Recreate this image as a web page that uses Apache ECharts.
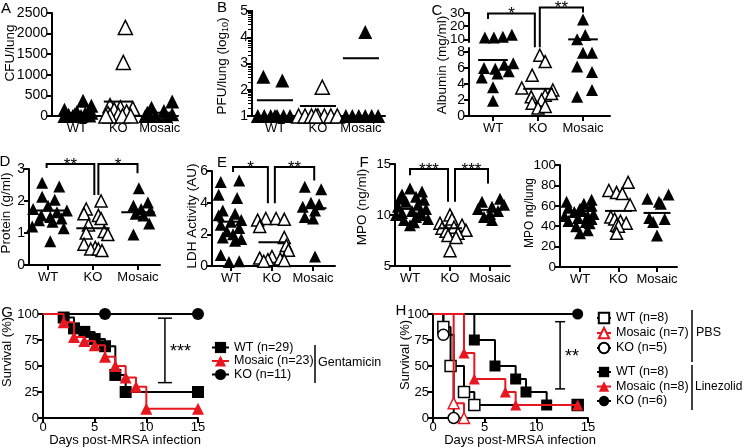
<!DOCTYPE html>
<html><head><meta charset="utf-8">
<script src="https://cdn.jsdelivr.net/npm/echarts@6.0.0/dist/echarts.min.js"></script>
<style>html,body{margin:0;padding:0;background:#fff;}#chart{width:744px;height:447px;}</style>
</head><body><div id="chart"></div>
<script>
// ---------------- DATA ----------------
const groups = ['WT', 'KO', 'Mosaic'];

// A: CFU/lung
const cfuWT = [0, 0, 0, 10, 30, 60, 100, 150, 80, 40, 370, 250];
const cfuWTJit = [-0.3, -0.1, 0.1, 0.3, -0.2, 0.2, 0.0, -0.3, 0.35, -0.05, 0.15, 0.35];
const cfuKO = [2150, 1300, 250, 200, 180, 150, 100, 60, 30, 0, 0, 0, 0];
const cfuKOJit = [0.17, 0.12, -0.2, 0.05, 0.35, -0.1, 0.2, -0.25, 0.0, -0.2, 0.1, 0.3, -0.3];
const cfuMo = [350, 200, 120, 80, 40, 0, 0, 0];
const cfuMoJit = [0.3, -0.2, 0.1, -0.3, 0.3, -0.1, 0.15, -0.35];
const cfuMean = [70, 350, 80];

// B: PFU/lung (log10)
const pfuWT = [2.5, 2.35, 1, 1, 1, 1, 1, 1, 1];
const pfuWTJit = [-0.27, 0.17, -0.4, -0.25, -0.1, 0.05, 0.2, 0.35, 0];
const pfuKO = [2.1, 1, 1, 1, 1, 1, 1, 1, 1];
const pfuKOJit = [0.1, -0.45, -0.3, -0.15, 0, 0.15, 0.3, 0.45, -0.05];
const pfuMo = [4.2, 1, 1, 1, 1, 1, 1];
const pfuMoJit = [0.1, -0.35, -0.2, -0.05, 0.1, 0.25, 0.4];
const pfuMean = [1.6, 1.38, 3.2];
const pfuMinorTicks = [1.301, 1.477, 1.602, 1.699, 1.778, 1.845, 1.903, 1.954,
  2.301, 2.477, 2.602, 2.699, 2.778, 2.845, 2.903, 2.954,
  3.301, 3.477, 3.602, 3.699, 3.778, 3.845, 3.903, 3.954,
  4.301, 4.477, 4.602, 4.699, 4.778, 4.845, 4.903, 4.954];

// C: Albumin (mg/ml), broken axis at 8.5
const albWT = [11.5, 11.5, 12, 13.5, 6.0, 5.9, 6.4, 6.6, 4.8, 5.3, 5.6, 3.6, 1.9];
const albWTJit = [-0.18, 0.02, 0.22, 0.42, -0.2, 0.05, 0.25, 0.45, -0.25, 0.1, 0.35, 0.0, 0.0];
const albKO = [7.6, 6.8, 5.1, 3.5, 3.25, 2.6, 2.4, 2.0, 1.6, 1.0, 1.2, 2.8];
const albKOJit = [0.04, 0.16, -0.13, -0.36, 0.33, 0.16, -0.15, 0.08, -0.13, 0.0, 0.16, 0.3];
const albMo = [25, 13.3, 10, 7.9, 7.9, 6.2, 5.5, 3.25, 2.4];
const albMoJit = [0, 0.05, -0.13, 0, 0.2, -0.13, 0.2, 0.2, -0.13];
const albMean = [7.0, 3.4, 10];
const albBreak = 8.5;
const albTopTicks = [10, 20, 30];
const albBottomTicks = [0, 2, 4, 6, 8];

// D: Protein (g/ml)
const protWT = [2.57, 2.45, 2.13, 2.04, 1.85, 1.75, 1.7, 1.65, 1.55, 1.5, 1.45, 1.4, 1.35, 1.2, 1.15, 0.74];
const protWTJit = [-0.13, 0.25, -0.13, 0.15, 0, -0.33, 0.42, 0.2, -0.15, 0.05, 0.3, -0.2, 0.1, -0.35, 0.35, 0.05];
const protKO = [2.0, 1.75, 1.6, 1.55, 1.45, 1.25, 1.05, 1.0, 0.95, 0.65, 0.55, 0.5, 0.5, 0.45];
const protKOJit = [0.18, -0.15, -0.2, 0.12, 0.18, -0.1, 0.25, -0.15, 0.33, -0.2, 0.05, -0.05, 0.12, 0.2];
const protMo = [2.4, 1.95, 1.85, 1.75, 1.7, 1.6, 1.55, 1.3, 0.95];
const protMoJit = [0.02, 0.22, -0.1, 0.07, 0.28, -0.05, 0.12, 0.25, -0.1];
const protMean = [1.7, 1.15, 1.65];

// E: LDH Activity (AU)
const ldhWT = [5.4, 5.3, 4.5, 4.3, 3.5, 3.3, 3.2, 2.9, 2.8, 2.6, 2.4, 2.2, 2.0, 1.8, 1.7, 1.6, 0.7, 0.3, 0.25];
const ldhWTJit = [0.2, -0.25, -0.3, 0.15, -0.2, 0.1, -0.3, 0.25, 0.0, -0.25, 0.2, -0.1, 0.05, -0.2, 0.25, 0.1, -0.25, 0.2, -0.05];
const ldhKO = [3.0, 3.0, 2.95, 2.9, 2.5, 1.8, 1.3, 1.0, 0.6, 0.5, 0.45, 0.4, 0.35, 0.3];
const ldhKOJit = [-0.15, 0.1, 0.3, -0.35, -0.3, 0.3, 0.35, 0.4, 0.0, -0.3, 0.2, -0.1, 0.3, -0.2];
const ldhMo = [5.0, 4.85, 4.0, 3.9, 3.75, 3.5, 3.1, 3.0, 0.6];
const ldhMoJit = [-0.2, 0.2, -0.05, 0.15, -0.25, 0.05, -0.2, 0.0, 0.05];
const ldhMean = [2.8, 1.5, 3.65];

// F left: MPO (ng/ml)
const mpoWT = [12.6, 12.3, 12.0, 11.8, 11.5, 11.3, 11.0, 10.8, 10.6, 10.4, 10.2, 10.0, 10.0, 9.8, 9.6, 9.5, 9.3, 9.0, 11.6, 10.2];
const mpoWTJit = [0.0, 0.3, -0.2, 0.15, 0.35, -0.1, 0.2, -0.3, 0.4, 0.05, -0.2, 0.3, -0.35, 0.15, 0.45, -0.15, 0.1, 0.0, -0.25, 0.25];
const mpoKO = [10.0, 9.6, 9.2, 9.0, 8.8, 8.7, 8.5, 8.4, 8.2, 8.0, 7.8, 6.5];
const mpoKOJit = [0.0, 0.05, -0.25, 0.3, 0.1, -0.2, 0.4, -0.1, 0.2, -0.05, 0.15, 0.0];
const mpoMo = [11.6, 11.3, 11.0, 10.8, 10.6, 10.4, 10.1, 9.8, 9.5];
const mpoMoJit = [0.25, -0.2, 0.35, 0.05, -0.3, 0.2, 0.0, -0.15, 0.05];
const mpoMean = [10.6, 8.7, 10.5];

// F right: MPO ng/lung
const mpolWT = [66, 64, 62, 60, 58, 57, 55, 54, 52, 50, 50, 48, 47, 45, 44, 43, 40, 36, 33];
const mpolWTJit = [0.3, -0.35, 0.1, 0.3, -0.3, 0.0, 0.05, -0.15, 0.35, -0.4, 0.2, -0.05, 0.3, -0.3, 0.15, 0.25, -0.1, 0.2, 0.0];
const mpolKO = [83, 75, 73, 72, 61, 49, 47, 45, 43, 41, 40, 33];
const mpolKOJit = [0.25, -0.25, -0.05, 0.1, 0.3, -0.2, -0.1, 0.05, 0.2, -0.05, 0.0, -0.05];
const mpolMo = [71, 67, 64, 62, 48, 47, 44, 31];
const mpolMoJit = [0.3, -0.25, 0.05, 0.1, -0.2, 0.2, -0.1, 0.0];
const mpolMean = [55, 55, 53];

// G: survival, Gentamicin  [day, % surviving]
const gentWT = [[0, 100], [2, 96.6], [3, 86.2], [4, 82.8], [5, 75.9], [6, 69], [7, 41.4], [8, 25], [15, 25]];
const gentMosaic = [[0, 100], [2, 92], [3, 78], [4, 74], [5, 70], [6, 59], [7, 50], [8, 39], [9, 30], [10, 9], [15, 9]];
const gentKO = [[0, 100], [6, 100], [15, 100]];

// H: survival, PBS vs Linezolid
const pbsWT = [[0, 100], [1, 87.5], [1.7, 50], [3, 25], [4, 12.5], [14, 12.5]];
const pbsMosaic = [[0, 100], [2, 14.3], [3, 0]];
const pbsKO = [[0, 100], [1, 80], [2, 0]];
const linWT = [[0, 100], [4, 75], [6, 50], [8, 37.5], [9, 25], [11, 12.5], [14, 12.5]];
const linMosaic = [[0, 100], [3, 62.5], [4, 37.5], [7, 25], [8, 12.5], [14, 12.5]];
const linKO = [[0, 100], [14, 100]];

// ---------------- LAYOUT / STYLE ----------------
const FONT = 'Liberation Sans';
const BLACK = '#000';
const RED = '#e8171f';
const plain = v => String(v);

const grids = [
  {left: 52, top: 13, width: 126, height: 103},   // 0 A
  {left: 252, top: 11, width: 133, height: 105},  // 1 B
  {left: 469, top: 13, width: 141, height: 29},   // 2 C top
  {left: 469, top: 48, width: 141, height: 68},   // 3 C bottom
  {left: 29, top: 169, width: 131, height: 96},   // 4 D
  {left: 212, top: 171, width: 123, height: 95},  // 5 E
  {left: 395, top: 164, width: 115, height: 102}, // 6 F
  {left: 560, top: 165, width: 117, height: 102}, // 7 F right
  {left: 43, top: 314, width: 155, height: 104},  // 8 G
  {left: 433, top: 314, width: 155, height: 104}  // 9 H
].map(g => Object.assign({containLabel: false, outerBoundsMode: 'none'}, g));

function catX(gi, min, max, show) {
  return {type: 'value', gridIndex: gi, min, max, show,
    axisLine: {show: true, onZero: false, lineStyle: {color: BLACK, width: 2}},
    axisTick: {show: true, customValues: [1, 2, 3], length: 5, lineStyle: {color: BLACK, width: 2}},
    axisLabel: {show: true, customValues: [1, 2, 3], formatter: v => groups[Math.round(v) - 1],
      fontSize: 13, fontFamily: FONT, color: BLACK, margin: 6, hideOverlap: false},
    splitLine: {show: false}};
}
function valY(gi, min, max, interval, fs, custom, noLabels) {
  const ax = {type: 'value', gridIndex: gi, min, max, position: 'left',
    axisLine: {show: true, onZero: false, lineStyle: {color: BLACK, width: 2}},
    axisTick: {show: true, length: 5, lineStyle: {color: BLACK, width: 2}},
    axisLabel: {show: !noLabels, fontSize: fs, fontFamily: FONT, color: BLACK, margin: 4, formatter: plain,
      showMinLabel: true, showMaxLabel: true, hideOverlap: false},
    splitLine: {show: false}};
  if (interval) ax.interval = interval;
  if (custom) { ax.axisTick.customValues = custom; ax.axisLabel.customValues = custom; }
  return ax;
}
function survX(gi) {
  return {type: 'value', gridIndex: gi, min: 0, max: 15, interval: 5,
    axisLine: {show: true, onZero: false, lineStyle: {color: BLACK, width: 2}},
    axisTick: {show: true, length: 5, lineStyle: {color: BLACK, width: 2}},
    axisLabel: {fontSize: 13, fontFamily: FONT, color: BLACK, margin: 3, formatter: plain},
    splitLine: {show: false}};
}

const xAxis = [
  catX(0, 0.4, 3.44, true),
  catX(1, 0.465, 3.56, true),
  catX(2, 0.467, 3.6, false),
  catX(3, 0.467, 3.6, true),
  catX(4, 0.578, 3.49, true),
  catX(5, 0.537, 3.537, true),
  catX(6, 0.625, 3.5, true),
  catX(7, 0.48, 3.52, true),
  survX(8),
  survX(9)
];
const minorB = valY(1, 1, 5, null, 14, pfuMinorTicks, true);
minorB.axisTick.length = 4;
minorB.axisTick.lineStyle = {color: BLACK, width: 1};
minorB.axisLine.lineStyle = {color: BLACK, width: 2};
const yAxis = [
  valY(0, 0, 2500, 500, 14),
  valY(1, 1, 5, 1, 14),
  valY(2, 8, 30, null, 13.5, albTopTicks, true),   // labels drawn below (tight spacing)
  valY(3, 0, 8.5, null, 14, albBottomTicks),
  valY(4, 0, 3, 1, 14),
  valY(5, 0, 6, 2, 14),
  valY(6, 5, 15, 5, 13),
  valY(7, 0, 100, 20, 13.5),
  valY(8, 0, 100, 25, 13),
  valY(9, 0, 100, 25, 13),
  minorB   // minor (log) ticks for B
];

// ---------------- SERIES ----------------
const series = [];
function dots(gi, vals, jit, cat, open, size, filterFn) {
  const data = [];
  vals.forEach((v, i) => { if (!filterFn || filterFn(v)) data.push([cat + jit[i], v]); });
  series.push({type: 'scatter', xAxisIndex: gi, yAxisIndex: gi, symbol: 'triangle',
    symbolSize: size, clip: false, silent: true, data, z: 3,
    itemStyle: open ? {color: '#fff', borderColor: BLACK, borderWidth: 1.5, opacity: 1} : {color: BLACK, opacity: 1}});
}
function means(gi, vals, hw, filterFn) {
  const data = [];
  vals.forEach((m, i) => { if (!filterFn || filterFn(m)) data.push([i + 1, m]); });
  series.push({type: 'custom', xAxisIndex: gi, yAxisIndex: gi, coordinateSystem: 'cartesian2d', clip: false,
    silent: true, z: 5, data,
    renderItem: (params, api) => {
      const c = api.value(0), m = api.value(1);
      const p1 = api.coord([c - hw, m]), p2 = api.coord([c + hw, m]);
      return {type: 'line', shape: {x1: p1[0], y1: p1[1], x2: p2[0], y2: p2[1]},
        style: {stroke: BLACK, lineWidth: 2}};
    }});
}
function panel(gi, sets, meanVals, size, hw) {
  dots(gi, sets[0], sets[1], 1, false, size);
  dots(gi, sets[2], sets[3], 2, true, size);
  dots(gi, sets[4], sets[5], 3, false, size);
  means(gi, meanVals, hw);
}
panel(0, [cfuWT, cfuWTJit, cfuKO, cfuKOJit, cfuMo, cfuMoJit], cfuMean, 14, 0.35);
panel(1, [pfuWT, pfuWTJit, pfuKO, pfuKOJit, pfuMo, pfuMoJit], pfuMean, 14, 0.42);
// C (broken)
const hi = v => v > albBreak, lo = v => v <= albBreak;
dots(2, albWT, albWTJit, 1, false, 12, hi); dots(3, albWT, albWTJit, 1, false, 12, lo);
dots(2, albKO, albKOJit, 2, true, 12, hi); dots(3, albKO, albKOJit, 2, true, 12, lo);
dots(2, albMo, albMoJit, 3, false, 12, hi); dots(3, albMo, albMoJit, 3, false, 12, lo);
means(2, albMean, 0.33, v => v >= albBreak); means(3, albMean, 0.33, v => v < albBreak);
panel(4, [protWT, protWTJit, protKO, protKOJit, protMo, protMoJit], protMean, 12, 0.37);
panel(5, [ldhWT, ldhWTJit, ldhKO, ldhKOJit, ldhMo, ldhMoJit], ldhMean, 12, 0.33);
panel(6, [mpoWT, mpoWTJit, mpoKO, mpoKOJit, mpoMo, mpoMoJit], mpoMean, 12, 0.3);
panel(7, [mpolWT, mpolWTJit, mpolKO, mpolKOJit, mpolMo, mpolMoJit], mpolMean, 12, 0.35);

function km(name, gi, pts, symbol, color, open, size, z) {
  series.push({type: 'line', name, xAxisIndex: gi, yAxisIndex: gi, step: 'end', clip: false, silent: true,
    data: pts.map((p, i) => i === 0 ? {value: p, symbol: 'none'} : p),
    symbol, symbolSize: size, showSymbol: true, showAllSymbol: true, z,
    lineStyle: {color, width: 2},
    itemStyle: open ? {color: '#fff', borderColor: color, borderWidth: 1.5} : {color}});
}
km('WT (n=29)', 8, gentWT, 'rect', BLACK, false, 12, 3);
km('Mosaic (n=23)', 8, gentMosaic, 'triangle', RED, false, 12, 4);
km('KO (n=11)', 8, gentKO, 'circle', BLACK, false, 12, 3);

km('WT (n=8)', 9, pbsWT, 'rect', BLACK, true, 11, 3);
km('Mosaic (n=7)', 9, pbsMosaic, 'triangle', RED, true, 11, 4);
km('KO (n=5)', 9, pbsKO, 'circle', BLACK, true, 11, 3);
km('WT (n=8) ', 9, linWT, 'rect', BLACK, false, 11, 3);
km('Mosaic (n=8)', 9, linMosaic, 'triangle', RED, false, 11, 4);
km('KO (n=6)', 9, linKO, 'circle', BLACK, false, 11, 3);

const legendText = {fontSize: 12.5, fontFamily: FONT, color: BLACK};
const legend = [
  {data: ['WT (n=29)', 'Mosaic (n=23)', 'KO (n=11)'], orient: 'vertical', left: 211, top: 341, padding: 0,
   itemWidth: 17, itemHeight: 14, itemGap: 0.5, selectedMode: false, textStyle: legendText},
  {data: ['WT (n=8)', 'Mosaic (n=7)', 'KO (n=5)'], orient: 'vertical', left: 596, top: 311.5, padding: 0,
   itemWidth: 14, itemHeight: 13, itemGap: 2, selectedMode: false, textStyle: legendText},
  {data: ['WT (n=8) ', 'Mosaic (n=8)', 'KO (n=6)'], orient: 'vertical', left: 596, top: 365.5, padding: 0,
   itemWidth: 14, itemHeight: 13, itemGap: 1.5, selectedMode: false, textStyle: legendText}
];

const chart = echarts.init(document.getElementById('chart'), null, {renderer: 'canvas', width: 744, height: 447});
chart.setOption({animation: false, backgroundColor: '#fff', textStyle: {fontFamily: FONT},
  grid: grids, xAxis, yAxis, series, legend});

// ---------------- ANNOTATIONS ----------------
const brackets = [
  {t: '*',   x1: 0.89, x2: 1.93, top: [2, 29.6], l: [2, 25.4], r: [3, 8.6]},
  {t: '**',  x1: 2.04, x2: 3.0,  top: [2, 34.2], l: [3, 8.6],  r: [2, 30.4]},
  {t: '**',  x1: 0.97, x2: 2.03, top: [4, 3.16], l: [4, 3.03], r: [4, 2.19]},
  {t: '*',   x1: 2.12, x2: 2.99, top: [4, 3.16], l: [4, 2.19], r: [4, 2.87]},
  {t: '*',   x1: 1.05, x2: 1.9,  top: [5, 6.25], l: [5, 5.94], r: [5, 3.97]},
  {t: '**',  x1: 2.07, x2: 3.03, top: [5, 6.25], l: [5, 3.97], r: [5, 5.4]},
  {t: '***', x1: 1.0,  x2: 1.95, top: [6, 14.5], l: [6, 13.9], r: [6, 11.3]},
  {t: '***', x1: 2.125, x2: 2.95, top: [6, 14.5], l: [6, 11.3], r: [6, 13.1]}
];
const survSig = [
  {g: 8, x: 11.8, y1: 96, y2: 34, t: '***', cap: 7},
  {g: 9, x: 12.3, y1: 92.6, y2: 28, t: '**', cap: 5}
];

const px = (g, x, y) => chart.convertToPixel({gridIndex: g}, [x, y]);
const gfx = [];
function text(x, y, s, fs, opt) {
  gfx.push(Object.assign({type: 'text', x, y, silent: true,
    style: Object.assign({text: s, fontSize: fs, fontFamily: FONT, fill: BLACK, align: 'center', verticalAlign: 'middle'}, (opt && opt.style) || {})},
    (opt && opt.el) || {}));
}
// C top-segment tick labels (spacing too tight for automatic labels)
const cMinX = xAxis[2].min;
albTopTicks.forEach(v => {
  const p = px(2, cMinX, v);
  text(p[0] - 4, p[1], String(v), 13.5, {style: {align: 'right'}});
});
brackets.forEach(b => {
  const a = px(b.l[0], b.x1, b.l[1]), c = px(b.top[0], b.x1, b.top[1]);
  const d = px(b.top[0], b.x2, b.top[1]), e = px(b.r[0], b.x2, b.r[1]);
  gfx.push({type: 'polyline', silent: true, shape: {points: [a, c, d, e]},
    style: {stroke: BLACK, lineWidth: 2, fill: null}});
  text((c[0] + d[0]) / 2, c[1] + 1, b.t, 17);
});
survSig.forEach(s => {
  const p1 = px(s.g, s.x, s.y1), p2 = px(s.g, s.x, s.y2);
  gfx.push({type: 'line', silent: true, shape: {x1: p1[0], y1: p1[1], x2: p2[0], y2: p2[1]}, style: {stroke: BLACK, lineWidth: 1.5}});
  gfx.push({type: 'line', silent: true, shape: {x1: p1[0] - s.cap, y1: p1[1], x2: p1[0] + s.cap, y2: p1[1]}, style: {stroke: BLACK, lineWidth: 1.5}});
  gfx.push({type: 'line', silent: true, shape: {x1: p2[0] - s.cap, y1: p2[1], x2: p2[0] + s.cap, y2: p2[1]}, style: {stroke: BLACK, lineWidth: 1.5}});
  text(p1[0] + 5, (p1[1] + p2[1]) / 2 + 2, s.t, 18, {style: {align: 'left'}});
});

// panel letters
[['A', 6, 9], ['B', 222, 8], ['C', 437, 11], ['D', 5, 162], ['E', 222, 163], ['F', 364, 163], ['G', 7, 313], ['H', 401, 311]]
  .forEach(l => text(l[1], l[2], l[0], 15));

// rotated axis titles
const rot = {el: {rotation: Math.PI / 2}};
text(10, 53, 'CFU/lung', 13.5, rot);
gfx.push({type: 'text', x: 222, y: 66, rotation: Math.PI / 2, silent: true,
  style: {text: '{a|PFU/lung (log}{s|10}{a|)}', align: 'center', verticalAlign: 'middle',
    rich: {a: {fontSize: 13.5, fontFamily: FONT, fill: BLACK, lineHeight: 16},
           s: {fontSize: 9, fontFamily: FONT, fill: BLACK, lineHeight: 16, verticalAlign: 'bottom'}}}});
text(442, 65, 'Albumin (mg/ml)', 13.5, rot);
text(6, 213, 'Protein (g/ml)', 13.5, rot);
text(192, 216, 'LDH Activity (AU)', 13.5, rot);
text(362, 207, 'MPO (ng/ml)', 13.5, rot);
text(530, 213, 'MPO ng/lung', 12, rot);
text(7, 352, 'Survival (%)', 13, rot);
text(405, 355, 'Survival (%)', 13, rot);
text(125, 440, 'Days post-MRSA infection', 13);
text(520, 440, 'Days post-MRSA infection', 13);

// legend group separators and labels
[[315, 345, 383], [692, 310, 362], [692, 365, 410]].forEach(b =>
  gfx.push({type: 'line', silent: true, shape: {x1: b[0], y1: b[1], x2: b[0], y2: b[2]}, style: {stroke: BLACK, lineWidth: 1.5}}));
text(318, 363, 'Gentamicin', 12.5, {style: {align: 'left'}});
text(696, 333, 'PBS', 12.5, {style: {align: 'left'}});
text(695, 387, 'Linezolid', 12, {style: {align: 'left'}});

chart.setOption({graphic: gfx});
</script></body></html>
